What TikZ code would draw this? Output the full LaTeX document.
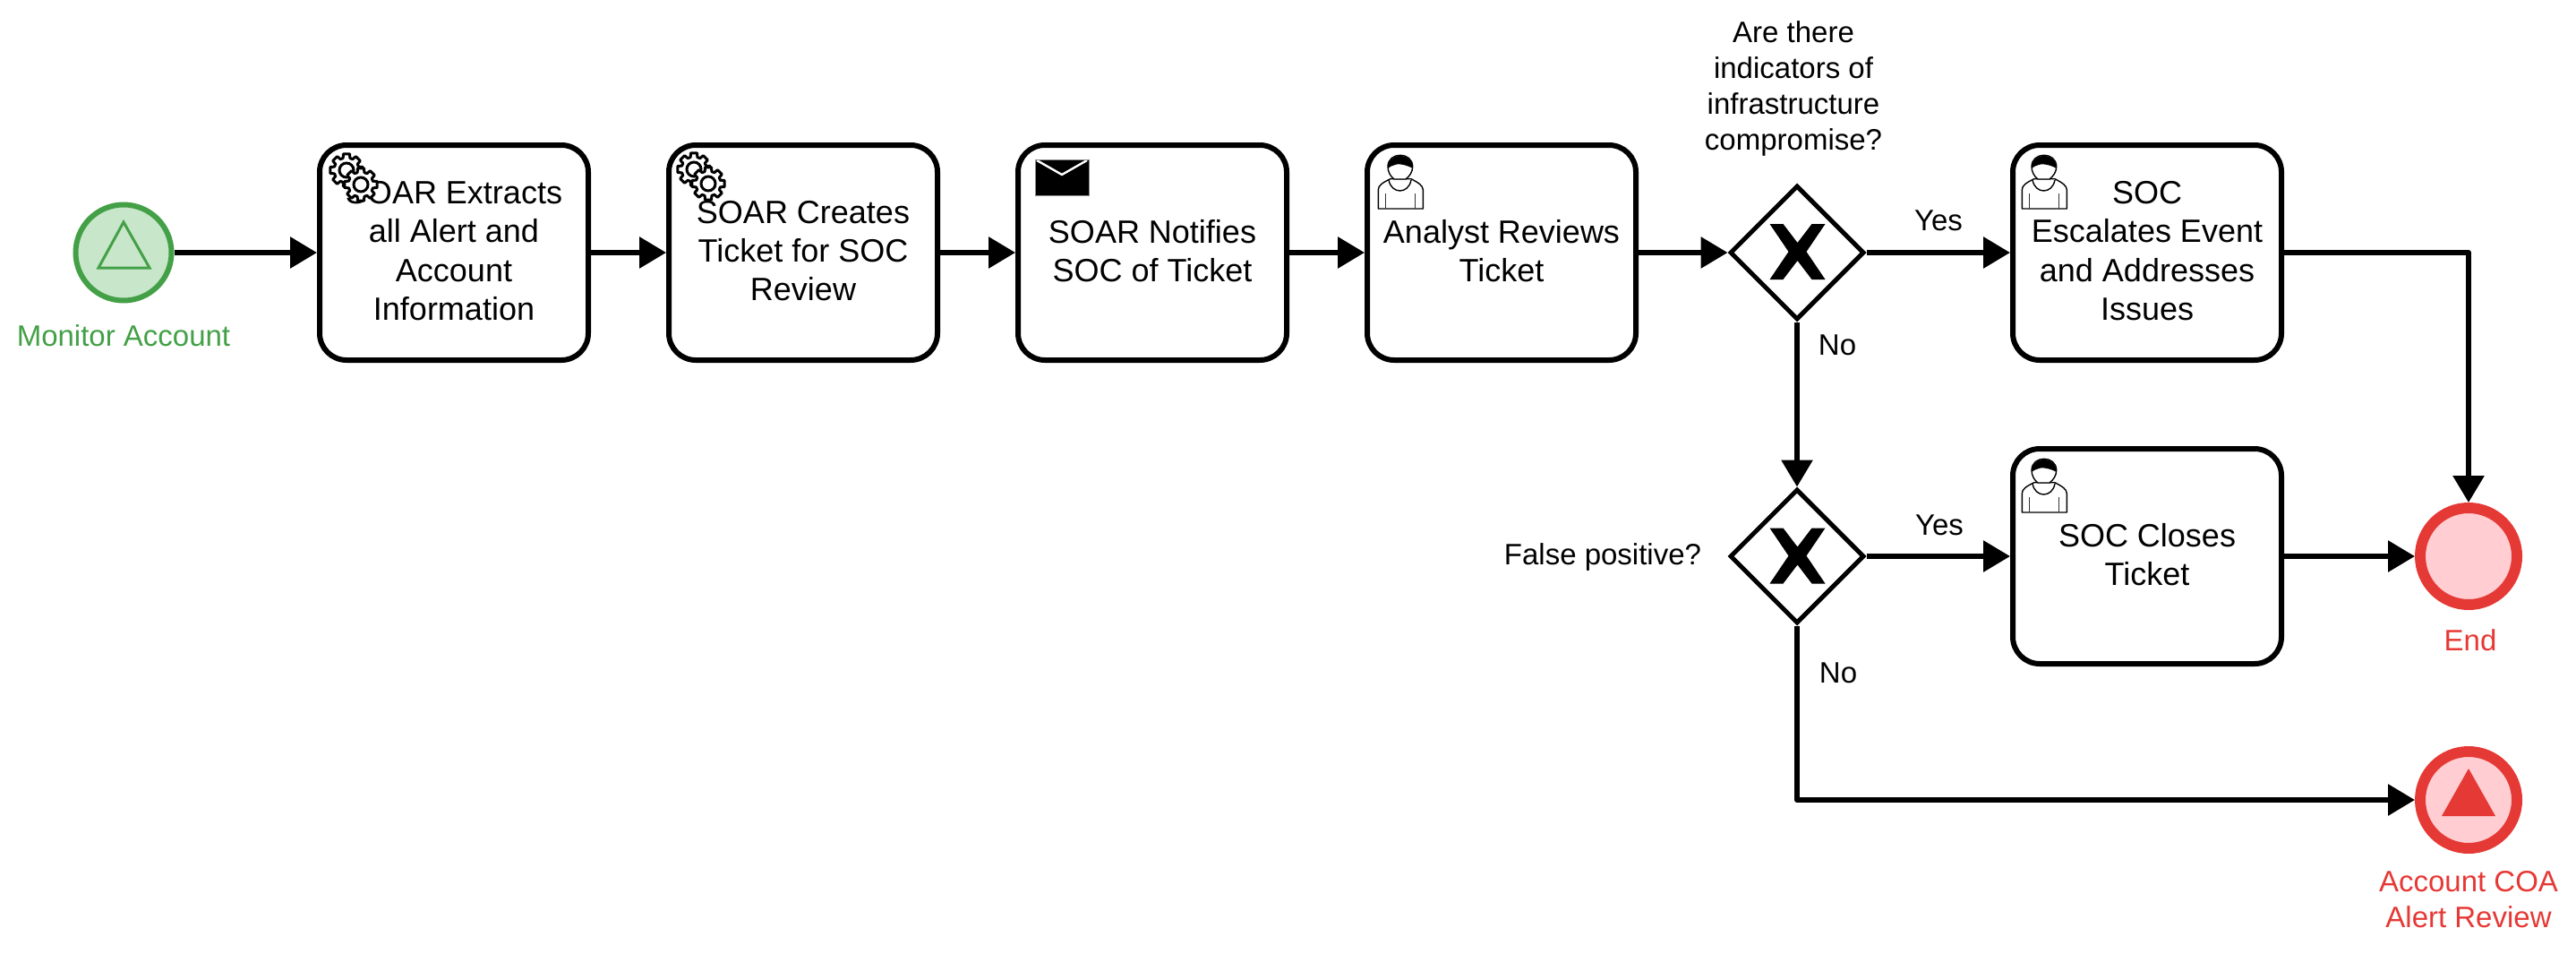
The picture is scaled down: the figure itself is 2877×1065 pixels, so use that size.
\documentclass[tikz,border=0pt]{standalone}
\usepackage{fontspec}
\setmainfont{Liberation Sans}
\usetikzlibrary{arrows.meta,shapes.geometric}
\definecolor{evgreen}{HTML}{43A047}
\definecolor{evgreenfill}{HTML}{C8E6C9}
\definecolor{evred}{HTML}{E53935}
\definecolor{evredfill}{HTML}{FFCDD2}
\newcommand{\lastline}{\rule[-4pt]{0pt}{4pt}}
\tikzset{
  x=1pt,y=-1pt,
  taskbox/.style={draw=black,fill=white,line width=6pt,rounded corners=30pt,minimum width=300pt,minimum height=240pt,inner sep=0pt,align=center,font=\fontsize{36}{43.2}\selectfont},
  gatebox/.style={diamond,aspect=1,draw=black,fill=white,line width=5pt,minimum width=150pt,minimum height=150pt,inner sep=0pt,miter limit=10},
  startev/.style={circle,draw=evgreen,fill=evgreenfill,line width=6pt,minimum size=107pt,inner sep=0pt},
  endev/.style={circle,draw=evred,fill=evredfill,line width=12pt,minimum size=108pt,inner sep=0pt},
  lbl/.style={inner sep=0pt,align=center,font=\fontsize{33}{40}\selectfont},
  flow/.style={draw=black,line width=6pt,line join=round,-{Triangle[length=30pt,width=34pt]}},
  gearicon/.pic={
    \draw[black,fill=white,line width=3pt,line join=round] (-14:14)
      \foreach \a in {0,45,...,315} { -- (\a-16:14) -- (\a-11:18.5) -- (\a+11:18.5) -- (\a+16:14) } -- cycle;
    \draw[black,fill=white,line width=3pt] (0,0) circle[radius=8];
  },
  usermark/.pic={
    \draw[black,fill=white,line width=1.4pt,line join=round] (10.3,71) -- (10.3,50) .. controls (10.3,45) and (15,42) .. (23.7,37.7) -- (47,37.7) .. controls (55,42) and (60.3,45) .. (60.3,50) -- (60.3,71) -- cycle;
    \draw[black,fill=white,line width=1.4pt] (22,39) .. controls (25,55) and (44,55) .. (47,39);
    \draw[black,fill=white,line width=1.4pt] (28,38) .. controls (24,35) and (21,30) .. (21,24) .. controls (21,7) and (48.7,7) .. (48.7,24) .. controls (48.7,30) and (45,35) .. (41,38) -- cycle;
    \fill[black] (21,26) .. controls (21,7) and (48.7,7) .. (48.7,26) .. controls (44,23) and (34,20) .. (29,22) .. controls (26,23) and (23,24) .. (21,26) -- cycle;
    \draw[black!80,line width=1.4pt] (18.7,54) -- (18.7,71) (51.3,54) -- (51.3,71);
  },
  messagemark/.pic={
    \fill[black] (17,16) rectangle (77,56);
    \draw[white,line width=2.4pt] (19,17) -- (47,33) -- (75,17);
    \draw[black!45,line width=.8pt] (17,16) rectangle (77,56);
  },
  xmark/.pic={
    \fill[black] (-31,-31) -- (-16,-31) -- (0,-10) -- (16,-31) -- (31,-31) -- (10,0) -- (31,31) -- (16,31) -- (0,10) -- (-16,31) -- (-31,31) -- (-10,0) -- cycle;
  }
}
\begin{document}
\begin{tikzpicture}
\useasboundingbox (0,0) rectangle (2877,1065);

\node[startev] (start) at (138,282) {};
\draw[evgreen,line width=3pt,line join=miter] (138,248) -- (167,299) -- (110,299) -- cycle;
\node[lbl,text=evgreen] (startl) at (138,375) {Monitor Account};

\node[taskbox] (t1) at (507,282) {SOAR Extracts\\all Alert and\\Account\\Information\lastline};
\node[taskbox] (t2) at (897,282) {SOAR Creates\\Ticket for SOC\\Review\lastline};
\node[taskbox] (t3) at (1287,282) {SOAR Notifies\\SOC of Ticket\lastline};
\node[taskbox] (t4) at (1677,282) {Analyst Reviews\\Ticket\lastline};
\node[taskbox] (t5) at (2398,282) {SOC\\Escalates Event\\and Addresses\\Issues\lastline};
\node[taskbox] (t6) at (2398,621) {SOC Closes\\Ticket\lastline};

\node[gatebox] (g1) at (2007,282) {};
\node[gatebox] (g2) at (2007,621) {};
\pic at (2007.5,281) {xmark};
\pic at (2007.5,620.5) {xmark};

\node[endev] (endn) at (2757,621) {};
\node[endev] (coa) at (2757,893) {};
\fill[evred] (2757,858) -- (2787,911) -- (2727,911) -- cycle;

\pic at ([shift={(33,31)}]t1.north west) {gearicon};
\pic at ([shift={(49,47)}]t1.north west) {gearicon};
\pic at ([shift={(31,30)}]t2.north west) {gearicon};
\pic at ([shift={(47,46)}]t2.north west) {gearicon};
\pic at ([shift={(5,3)}]t3.north west) {messagemark};
\pic at ([shift={(5,3)}]t4.north west) {usermark};
\pic at ([shift={(3,3)}]t5.north west) {usermark};
\pic at ([shift={(3,3)}]t6.north west) {usermark};

\draw[flow] (start) -- (t1);
\draw[flow] (t1) -- (t2);
\draw[flow] (t2) -- (t3);
\draw[flow] (t3) -- (t4);
\draw[flow] (t4) -- (g1);
\draw[flow] (g1) -- (t5);
\draw[flow] (g1) -- (g2);
\draw[flow] (g2) -- (t6);
\draw[flow] (t6) -- (endn);
\draw[flow] (t5.east) -| (endn.north);
\draw[flow] (g2.south) |- (coa.west);

\node[lbl] (q1) at (2003,99) {Are there\\indicators of\\infrastructure\\compromise?};
\node[lbl] (q2) at (1790,622) {False positive?};
\node[lbl] (y1) at (2165,246) {Yes};
\node[lbl] (n1) at (2052,385) {No};
\node[lbl] (y2) at (2166,586) {Yes};
\node[lbl] (n2) at (2053,751) {No};
\node[lbl,text=evred] (endl) at (2759,715) {End};
\node[lbl,text=evred] (coal) at (2757,1004) {Account COA\\Alert Review};
\end{tikzpicture}
\end{document}
